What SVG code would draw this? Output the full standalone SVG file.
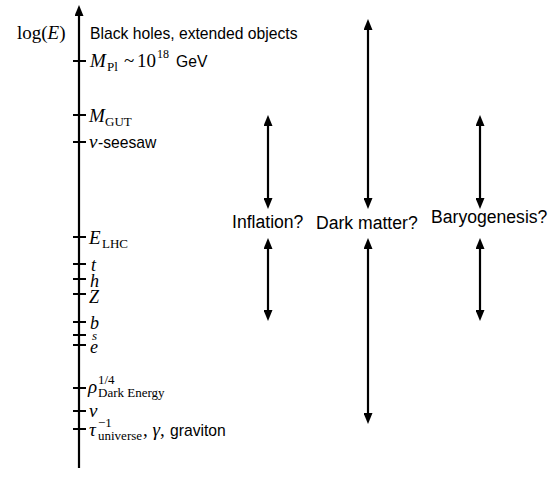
<svg xmlns="http://www.w3.org/2000/svg" width="550" height="496" viewBox="0 0 550 496">
<style>
.ln{stroke:#000;stroke-width:2.2;fill:none}
.tk{stroke:#000;stroke-width:2}
.sans{font-family:"Liberation Sans",Arial,sans-serif;fill:#000}
.ser{font-family:"Liberation Serif","Times New Roman",serif;fill:#000}
.it{font-style:italic}
.lab{font-size:15.7px}
.big{font-size:17.6px}
.sym{font-size:19px}
.sm{font-size:18px}
.sub{font-size:13px}
</style>
<defs>
<marker id="ah" viewBox="0 0 11 9" refX="2" refY="4.5" markerWidth="11" markerHeight="9" markerUnits="userSpaceOnUse" orient="auto-start-reverse">
<path d="M0,0 L11,4.5 L0,9 z" fill="#000"/>
</marker>
</defs>
<rect width="550" height="496" fill="#fff"/>
<g id="connectors">
<line class="ln" x1="79" y1="468" x2="79" y2="14" marker-end="url(#ah)"/>
<line class="ln" x1="268" y1="124" x2="268" y2="200" marker-start="url(#ah)" marker-end="url(#ah)"/>
<line class="ln" x1="268" y1="247" x2="268" y2="312" marker-start="url(#ah)" marker-end="url(#ah)"/>
<line class="ln" x1="368" y1="28" x2="368" y2="200" marker-start="url(#ah)" marker-end="url(#ah)"/>
<line class="ln" x1="368" y1="247" x2="368" y2="415" marker-start="url(#ah)" marker-end="url(#ah)"/>
<line class="ln" x1="480" y1="124" x2="480" y2="200" marker-start="url(#ah)" marker-end="url(#ah)"/>
<line class="ln" x1="480" y1="247" x2="480" y2="312" marker-start="url(#ah)" marker-end="url(#ah)"/>
</g>
<g id="ticks">
<line class="tk" x1="73" y1="61" x2="86" y2="61"/>
<line class="tk" x1="73" y1="115" x2="86" y2="115"/>
<line class="tk" x1="73" y1="142" x2="86" y2="142"/>
<line class="tk" x1="73" y1="237" x2="86" y2="237"/>
<line class="tk" x1="73" y1="264" x2="86" y2="264"/>
<line class="tk" x1="73" y1="279" x2="86" y2="279"/>
<line class="tk" x1="73" y1="294" x2="86" y2="294"/>
<line class="tk" x1="73" y1="322" x2="86" y2="322"/>
<line class="tk" x1="73" y1="335" x2="86" y2="335"/>
<line class="tk" x1="73" y1="345" x2="86" y2="345"/>
<line class="tk" x1="73" y1="388" x2="86" y2="388"/>
<line class="tk" x1="73" y1="411" x2="86" y2="411"/>
<line class="tk" x1="73" y1="429" x2="86" y2="429"/>
</g>
<g id="axis-title">
<text class="ser sym" x="17" y="39">log(<tspan class="it">E</tspan>)</text>
</g>
<g id="black-holes"><text class="sans lab" x="90" y="39">Black holes, extended objects</text></g>
<g id="m-planck">
<text class="ser sym it" x="90" y="67">M</text>
<text class="ser sub" x="107" y="71">Pl</text>
<text class="ser sym" x="124" y="67">~</text>
<text class="ser sym" x="137" y="67">10</text>
<text class="ser" font-size="12" x="157" y="58">18</text>
<text class="sans lab" x="176" y="67">GeV</text>
</g>
<g id="m-gut">
<text class="ser sym it" x="89" y="122">M</text>
<text class="ser sub" x="105" y="126">GUT</text>
</g>
<g id="nu-seesaw">
<text class="ser sym it" x="89" y="148">ν</text>
<text class="sans lab" x="98" y="148">-seesaw</text>
</g>
<g id="e-lhc">
<text class="ser sym it" x="89" y="244">E</text>
<text class="ser sub" x="102" y="248">LHC</text>
</g>
<g id="top"><text class="ser sm it" x="91" y="271">t</text></g>
<g id="higgs"><text class="ser sm it" x="90" y="287">h</text></g>
<g id="z"><text class="ser sm it" x="89" y="303">Z</text></g>
<g id="bottom"><text class="ser sm it" x="90" y="329">b</text></g>
<g id="strange"><text class="ser it" font-size="13" x="92" y="340">s</text></g>
<g id="electron"><text class="ser sm it" x="90" y="353">e</text></g>
<g id="rho-de">
<text class="ser sym it" x="88" y="393">ρ</text>
<text class="ser sub" x="98" y="384">1/4</text>
<text class="ser sub" x="98" y="397">Dark Energy</text>
</g>
<g id="nu"><text class="ser sym it" x="89" y="417">ν</text></g>
<g id="tau-universe">
<text class="ser sym it" x="89" y="436">τ</text>
<text class="ser sub" x="98" y="427">−1</text>
<text class="ser sub" x="98" y="440">universe</text>
<text class="ser sym" x="143" y="436">, <tspan class="it">γ</tspan>,</text>
<text class="sans lab" x="170" y="436">graviton</text>
</g>
<g id="inflation"><text class="sans big" x="232" y="228">Inflation?</text></g>
<g id="dark-matter"><text class="sans big" x="316" y="229">Dark matter?</text></g>
<g id="baryogenesis"><text class="sans big" x="431" y="223">Baryogenesis?</text></g>
</svg>
